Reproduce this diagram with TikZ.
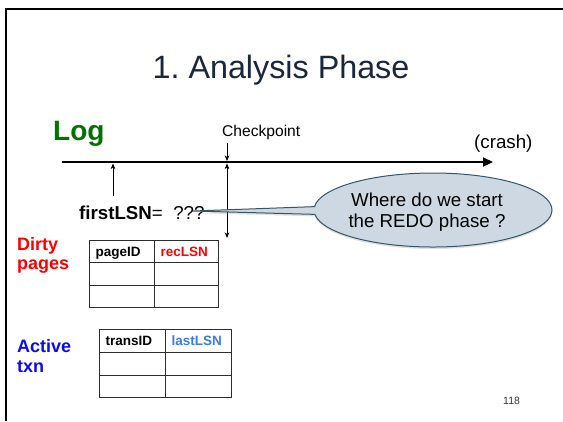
\documentclass[tikz,border=0pt]{standalone}
\usepackage{fontspec}
\setmainfont{Liberation Sans}
\usetikzlibrary{arrows.meta,shapes.callouts,shadows}

\definecolor{titleblue}{RGB}{25,38,60}
\definecolor{loggreen}{RGB}{0,115,0}
\definecolor{dirtyred}{RGB}{255,0,0}
\definecolor{activeblue}{RGB}{10,10,245}
\definecolor{lastblue}{RGB}{60,120,250}
\definecolor{bubblefill}{RGB}{205,216,226}
\definecolor{bubbleline}{RGB}{55,85,105}
\definecolor{gridgray}{RGB}{45,45,45}

% font size given in big points: size, baselineskip
\newcommand{\pxsize}[2]{\fontsize{#1bp}{#2bp}\selectfont}
\frenchspacing

\begin{document}
\begin{tikzpicture}[x=1bp,y=-1bp,
  lbl/.style={inner sep=0pt, anchor=base west},
  cell/.style={draw=gridgray, line width=1.1bp, anchor=north west,
    inner xsep=6bp, inner ysep=0pt, align=left,
    text height=11.5bp, text depth=2.5bp,
    font=\pxsize{13.5}{16}\bfseries},
  logline/.style={line width=2.2bp, -{Triangle[length=10bp,width=9bp]}},
  thinarrow/.style={line width=0.9bp, -{Stealth[length=5.5bp,width=4.5bp,inset=1.5bp]}},
  thinboth/.style={line width=0.9bp, {Stealth[length=5.5bp,width=4.5bp,inset=1.5bp]}-{Stealth[length=5.5bp,width=4.5bp,inset=1.5bp]}},
]
\useasboundingbox (0,0) rectangle (563,421);
\fill[white] (0,0) rectangle (563,421);

% slide frame
\draw[line width=2.4bp] (6,421) -- (6,9) -- (563,9);

% title
\node[inner sep=0pt, anchor=base, font=\pxsize{32.3}{38}, text=titleblue] (title) at (281,78) {1. Analysis Phase};

% log timeline
\node[lbl, font=\pxsize{28}{32}\bfseries, text=loggreen] (log) at (53,140) {Log};
\node[lbl, font=\pxsize{15.6}{18}] (cplabel) at (222,136) {Checkpoint};
\node[lbl, font=\pxsize{18.7}{22}] (crash) at (474,148) {(crash)};
\coordinate (logL) at (62,162);
\coordinate (logR) at (493,162);
\draw[logline] (logL) -- (logR);

% firstLSN marker
\node[lbl, font=\pxsize{18.7}{22}] (first) at (79,219) {\textbf{firstLSN}=\hspace{10.5bp}???};
\coordinate (fsttail) at (113,196);
\coordinate (fsthead) at (113,163.5);
\draw[thinarrow] (fsttail) -- (fsthead);

% checkpoint marker
\coordinate (cptop) at (227,143);
\coordinate (cpline) at (227,161);
\coordinate (cpbelow) at (227,163.5);
\coordinate (cpbottom) at (227,238);
\draw[thinarrow] (cptop) -- (cpline);
\draw[thinboth] (cpbelow) -- (cpbottom);

% speech bubble
\coordinate (tip) at (193,211);
\node[ellipse callout, draw=bubbleline, fill=bubblefill, line width=1bp,
  minimum width=238bp, minimum height=74bp, inner sep=0pt,
  callout absolute pointer={(tip)}, callout pointer arc=12,
  drop shadow={shadow xshift=0bp, shadow yshift=-2bp, opacity=0.25}] (bubble) at (433,210) {};
\node[align=center, inner sep=0pt, font=\pxsize{18.7}{21.5}] (bubbletext) at (427,212) {Where do we start\\the REDO phase ?};

% dirty page table
\node[lbl, font=\pxsize{18}{20}\bfseries, text=dirtyred] (dirty1) at (17,250) {Dirty};
\node[lbl, font=\pxsize{18}{20}\bfseries, text=dirtyred] (dirty2) at (17,269) {pages};
\node[cell, minimum height=22.3bp, text width=53bp] (dp11) at (89,240) {pageID};
\node[cell, minimum height=22.3bp, text width=52bp, text=dirtyred] (dp12) at (154,240) {recLSN};
\node[cell, minimum height=22.3bp, text width=53bp] (dp21) at (89,262.3) {};
\node[cell, minimum height=22.3bp, text width=52bp] (dp22) at (154,262.3) {};
\node[cell, minimum height=22.4bp, text width=53bp] (dp31) at (89,284.6) {};
\node[cell, minimum height=22.4bp, text width=52bp] (dp32) at (154,284.6) {};

% active transaction table
\node[lbl, font=\pxsize{18}{20}\bfseries, text=activeblue] (act1) at (17,352) {Active};
\node[lbl, font=\pxsize{18}{20}\bfseries, text=activeblue] (act2) at (17,372) {txn};
\node[cell, minimum height=23bp, text width=54bp] (at11) at (99,329) {transID};
\node[cell, minimum height=23bp, text width=54bp, text=lastblue] (at12) at (165,329) {lastLSN};
\node[cell, minimum height=22.5bp, text width=54bp] (at21) at (99,352) {};
\node[cell, minimum height=22.5bp, text width=54bp] (at22) at (165,352) {};
\node[cell, minimum height=22.5bp, text width=54bp] (at31) at (99,374.5) {};
\node[cell, minimum height=22.5bp, text width=54bp] (at32) at (165,374.5) {};

% slide number
\node[lbl, font=\pxsize{10.5}{12}, text=black!80] (pagenum) at (503,404) {118};
\end{tikzpicture}
\end{document}
